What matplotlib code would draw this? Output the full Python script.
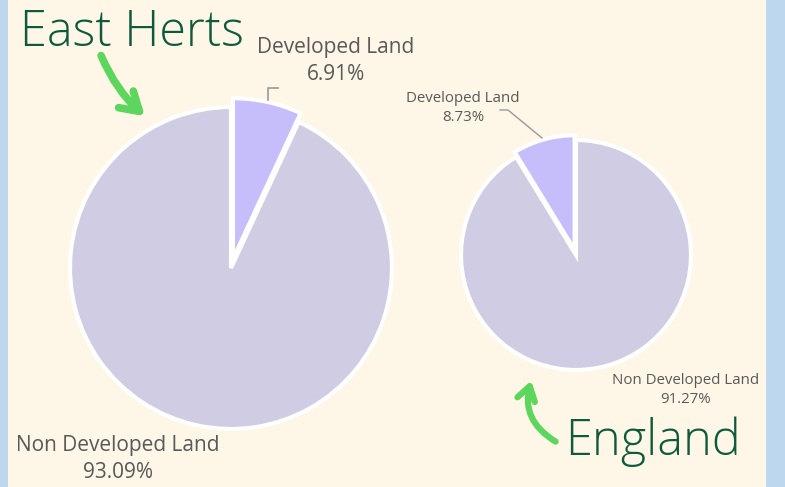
import matplotlib.pyplot as plt
from matplotlib.patches import FancyArrowPatch, Rectangle

# data
areas = ["East Herts", "England"]
labels = ["Developed Land", "Non Developed Land"]
east_herts = [6.91, 93.09]
england = [8.73, 91.27]

col_dev = '#C6BEFA'
col_non = '#D0CCE4'
txt_grey = '#595959'
green_txt = '#0E5A3C'
green_arrow = '#5DD65D'

W, H = 785, 487
fig = plt.figure(figsize=(W / 100, H / 100), dpi=100)
fig.patch.set_facecolor('#BDD7EE')
ax = fig.add_axes([0, 0, 1, 1])

# cream panel
ax.add_patch(Rectangle((8, 0), 758, H, facecolor='#FEF6E7', edgecolor='none', zorder=0))

def py(y):
    return H - y

wp = dict(edgecolor='white', linewidth=3)

# East Herts pie (explode is in data units = pixels here)
ax.pie(east_herts, colors=[col_dev, col_non], startangle=90, counterclock=False,
       explode=[9, 0], center=(231, py(268)), radius=161, wedgeprops=wp,
       frame=True)

# England pie
ax.pie(england, colors=[col_dev, col_non], startangle=90, counterclock=True,
       explode=[5, 0], center=(576, py(255)), radius=115, wedgeprops=wp,
       frame=True)

ax.set_xlim(0, W)
ax.set_ylim(0, H)
ax.set_aspect('equal')
ax.axis('off')

font = 'Open Sans'

# labels big pie
ax.text(336, py(61), f"{labels[0]}\n{east_herts[0]:.2f}%", ha='center', va='center',
        fontsize=15, color=txt_grey, family=font, linespacing=1.35)
ax.plot([268, 268, 278], [py(100), py(88), py(88)], color='#999999', lw=1.2)
ax.text(118, py(459), f"{labels[1]}\n{east_herts[1]:.2f}%", ha='center', va='center',
        fontsize=15, color=txt_grey, family=font, linespacing=1.35)

# labels small pie
ax.text(463, py(108), f"{labels[0]}\n{england[0]:.2f}%", ha='center', va='center',
        fontsize=10.8, color=txt_grey, family=font, linespacing=1.3)
ax.plot([542, 508, 500], [py(138), py(110), py(110)], color='#999999', lw=1)
ax.text(686, py(390), f"{labels[1]}\n{england[1]:.2f}%", ha='center', va='center',
        fontsize=10.8, color=txt_grey, family=font, linespacing=1.3)

# titles
ax.text(20, py(33), areas[0], ha='left', va='center', fontsize=35,
        color=green_txt, family=font, fontweight='light')
ax.text(565, py(442), areas[1], ha='left', va='center', fontsize=35,
        color=green_txt, family=font, fontweight='light')

# arrows
a1 = FancyArrowPatch((100, py(53)), (147, py(118)), connectionstyle='arc3,rad=0.12',
                     arrowstyle='->,head_length=13,head_width=8', color=green_arrow,
                     lw=5.5, capstyle='round', joinstyle='round')
ax.add_patch(a1)
a2 = FancyArrowPatch((558, py(443)), (532, py(378)), connectionstyle='arc3,rad=-0.4',
                     arrowstyle='->,head_length=10,head_width=6.5', color=green_arrow,
                     lw=4.5, capstyle='round', joinstyle='round')
ax.add_patch(a2)

plt.savefig('out.png', dpi=100, facecolor=fig.get_facecolor())
